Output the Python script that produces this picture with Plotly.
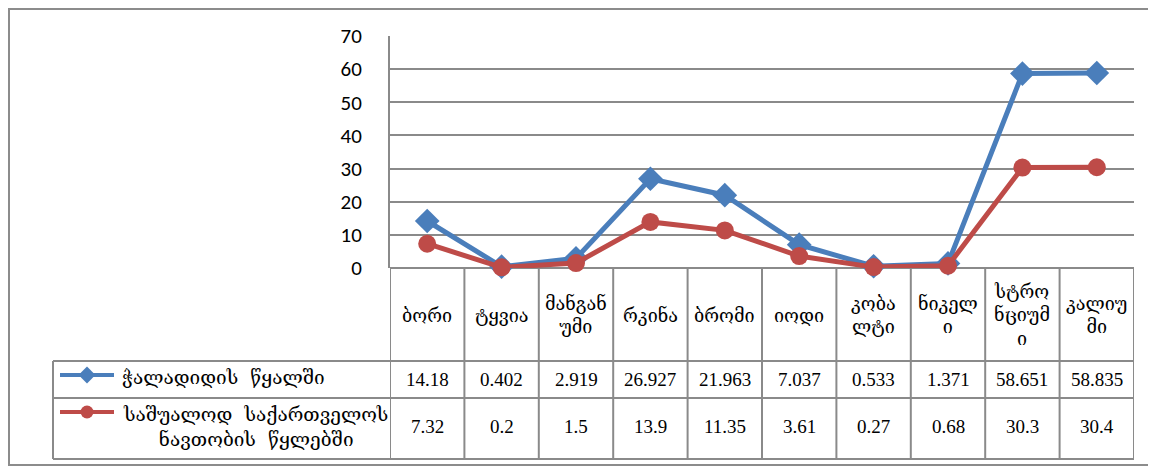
import plotly.graph_objects as go

categories = ["ბორი", "ტყვია", "მანგან<br>უმი", "რკინა", "ბრომი", "იოდი",
              "კობა<br>ლტი", "ნიკელ<br>ი", "სტრო<br>ნციუმ<br>ი", "კალიუ<br>მი"]
series_names = ["ჭალადიდის  წყალში", "საშუალოდ  საქართველოს<br>ნავთობის  წყლებში"]
chaladidi = [14.18, 0.402, 2.919, 26.927, 21.963, 7.037, 0.533, 1.371, 58.651, 58.835]
average_ge = [7.32, 0.2, 1.5, 13.9, 11.35, 3.61, 0.27, 0.68, 30.3, 30.4]
y_ticks = [0, 10, 20, 30, 40, 50, 60, 70]

BLUE = "#4A7EBB"
RED = "#BE4B48"
GRID = "#8A8A8A"
W, H = 1156, 470
OFF = 8  # page body margin offset of the rendered figure


def px(v):
    return v - OFF


def py(v):
    return v - OFF


GEO_FONT = "DejaVu Serif, DejaVu Sans, serif"
NUM_FONT = "Liberation Serif, Times New Roman, serif"

xs = list(range(len(categories)))

fig = go.Figure()
fig.add_trace(go.Scatter(x=xs, y=chaladidi, mode="lines+markers",
                         line=dict(color=BLUE, width=5),
                         marker=dict(symbol="diamond", size=19, color=BLUE),
                         showlegend=False, cliponaxis=False))
fig.add_trace(go.Scatter(x=xs, y=average_ge, mode="lines+markers",
                         line=dict(color=RED, width=5),
                         marker=dict(symbol="circle", size=18, color=RED),
                         showlegend=False, cliponaxis=False))

# legend keys drawn in the data table (pixel-space axes)
key_x = [px(60), px(87), px(114)]
fig.add_trace(go.Scatter(x=key_x, y=[py(375)] * 3, xaxis="x2", yaxis="y2",
                         mode="lines", line=dict(color=BLUE, width=4), showlegend=False))
fig.add_trace(go.Scatter(x=[px(87)], y=[py(375)], xaxis="x2", yaxis="y2", mode="markers",
                         marker=dict(symbol="diamond", size=13, color=BLUE), showlegend=False))
fig.add_trace(go.Scatter(x=key_x, y=[py(412)] * 3, xaxis="x2", yaxis="y2",
                         mode="lines", line=dict(color=RED, width=4), showlegend=False))
fig.add_trace(go.Scatter(x=[px(87)], y=[py(412)], xaxis="x2", yaxis="y2", mode="markers",
                         marker=dict(symbol="circle", size=13, color=RED), showlegend=False))

shapes = []
line_style = dict(color=GRID, width=2)
# outer border
shapes.append(dict(type="rect", xref="x2", yref="y2", x0=1, x1=px(1150), y0=1, y1=py(465),
                   line=dict(color="#8C8C8C", width=2)))
# column separators (category row and series rows)
for i in range(len(categories) + 1):
    shapes.append(dict(type="line", xref="x", yref="y2", x0=i - 0.5, x1=i - 0.5,
                       y0=py(268), y1=py(459), line=line_style))
# left border of series rows
shapes.append(dict(type="line", xref="x2", yref="y2", x0=px(53), x1=px(53),
                   y0=py(361), y1=py(459), line=line_style))
for yy in [361, 398, 459]:
    shapes.append(dict(type="line", xref="x2", yref="y2", x0=px(53), x1=px(1134),
                       y0=py(yy), y1=py(yy), line=line_style))

annotations = []
for i, c in enumerate(categories):
    annotations.append(dict(x=i, y=py(315), xref="x", yref="y2", text=c, showarrow=False,
                            font=dict(family=GEO_FONT, size=18, color="black"),
                            xanchor="center", yanchor="middle", align="center"))
    annotations.append(dict(x=i, y=py(379), xref="x", yref="y2", text=f"{chaladidi[i]:g}",
                            showarrow=False, font=dict(family=NUM_FONT, size=19, color="black"),
                            xanchor="center", yanchor="middle"))
    annotations.append(dict(x=i, y=py(426), xref="x", yref="y2", text=f"{average_ge[i]:g}",
                            showarrow=False, font=dict(family=NUM_FONT, size=19, color="black"),
                            xanchor="center", yanchor="middle"))
annotations.append(dict(x=px(120), y=py(377), xref="x2", yref="y2", text=series_names[0],
                        showarrow=False, font=dict(family=GEO_FONT, size=19, color="black"),
                        xanchor="left", yanchor="middle"))
annotations.append(dict(x=px(255), y=py(426), xref="x2", yref="y2", text=series_names[1],
                        showarrow=False, font=dict(family=GEO_FONT, size=19, color="black"),
                        xanchor="center", yanchor="middle", align="center"))

fig.update_layout(
    width=W, height=H, margin=dict(l=0, r=0, t=0, b=0, pad=0, autoexpand=False),
    paper_bgcolor="white", plot_bgcolor="rgba(0,0,0,0)",
    xaxis=dict(domain=[px(390) / W, px(1134) / W], range=[-0.5, len(categories) - 0.5],
               showgrid=False, zeroline=False, showticklabels=False, ticks="",
               showline=False, fixedrange=True, automargin=False),
    yaxis=dict(domain=[(H - py(268)) / H, (H - py(36)) / H], range=[0, 70],
               tickvals=y_ticks, showgrid=True, gridcolor=GRID, gridwidth=1.7,
               zeroline=True, zerolinecolor=GRID, zerolinewidth=2,
               showline=True, linecolor=GRID, linewidth=2,
               ticks="outside", ticklen=0, ticklabelstandoff=22,
               tickfont=dict(family="Carlito, Lato, Open Sans, sans-serif", size=21, color="black"),
               fixedrange=True, automargin=False),
    xaxis2=dict(domain=[0, 1], range=[0, W], visible=False, fixedrange=True,
                anchor="y2", automargin=False),
    yaxis2=dict(domain=[0, 1], range=[H, 0], visible=False, fixedrange=True,
                anchor="x2", automargin=False),
    shapes=shapes, annotations=annotations,
)
fig.write_html("out.html")
